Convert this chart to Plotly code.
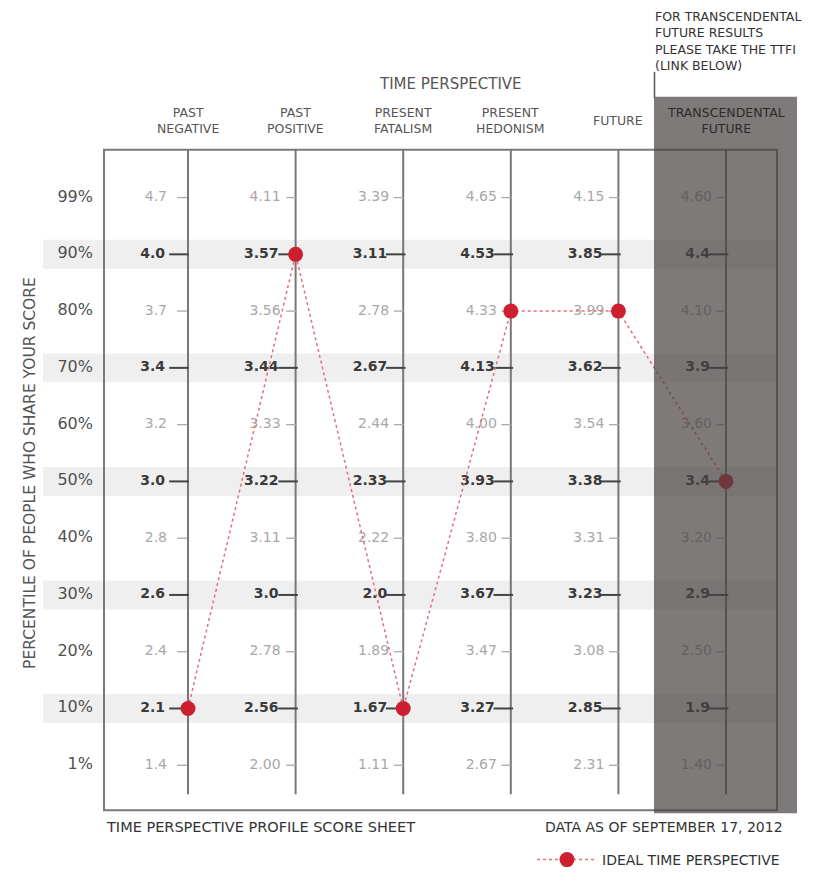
import plotly.graph_objects as go

# ---------------- data ----------------
columns = ["PAST<br>NEGATIVE", "PAST<br>POSITIVE", "PRESENT<br>FATALISM",
           "PRESENT<br>HEDONISM", "FUTURE", "TRANSCENDENTAL<br>FUTURE"]
percentiles = ["99%", "90%", "80%", "70%", "60%", "50%", "40%", "30%", "20%", "10%", "1%"]
major_rows = ["90%", "70%", "50%", "30%", "10%"]

past_negative = ["4.7", "4.0", "3.7", "3.4", "3.2", "3.0", "2.8", "2.6", "2.4", "2.1", "1.4"]
past_positive = ["4.11", "3.57", "3.56", "3.44", "3.33", "3.22", "3.11", "3.0", "2.78", "2.56", "2.00"]
present_fatalism = ["3.39", "3.11", "2.78", "2.67", "2.44", "2.33", "2.22", "2.0", "1.89", "1.67", "1.11"]
present_hedonism = ["4.65", "4.53", "4.33", "4.13", "4.00", "3.93", "3.80", "3.67", "3.47", "3.27", "2.67"]
future = ["4.15", "3.85", "3.99", "3.62", "3.54", "3.38", "3.31", "3.23", "3.08", "2.85", "2.31"]
transcendental_future = ["4.60", "4.4", "4.10", "3.9", "3.60", "3.4", "3.20", "2.9", "2.50", "1.9", "1.40"]

ideal_percentile = ["10%", "90%", "10%", "80%", "80%", "50%"]

score_columns = [past_negative, past_positive, present_fatalism,
                 present_hedonism, future, transcendental_future]

# ---------------- geometry helpers (window pixel -> axis units) ----------------
WIN_W, WIN_H = 825, 876
OFF = 8                      # page body margin
W, H = WIN_W - OFF, WIN_H - OFF
X0, DX = 188.0, 107.6        # window pixel of column 0, pixels per column
Y0, DY = 198.0, 56.9         # window pixel of row 0, pixels per row


def px_x(p):
    return (p - X0) / DX


def px_y(p):
    return (p - Y0) / DY


FONT = "DejaVu Sans"
row_idx = {p: i for i, p in enumerate(percentiles)}
label_gap = [22, 16, 15, 15, 15, 15]   # px between column line and label (style)

fig = go.Figure()

# value labels
for is_major in (False, True):
    xs, ys, ts = [], [], []
    for c, vals in enumerate(score_columns):
        for r, v in enumerate(vals):
            if (percentiles[r] in major_rows) == is_major:
                xs.append(c - (label_gap[c] + (1 if is_major else -1)) / DX)
                ys.append(r)
                ts.append(v)
    fig.add_trace(go.Scatter(
        x=xs, y=ys, text=ts, mode="text", textposition="middle left",
        textfont=dict(family=FONT, size=14,
                      color="#3a3a3a" if is_major else "#a8a8a8",
                      weight="bold" if is_major else "normal"),
        hoverinfo="skip", showlegend=False))

# tick marks
for is_major in (False, True):
    xs, ys = [], []
    for c in range(len(columns)):
        ln = (13 if is_major else 7) + (3 if c == 0 else 0)
        for r in range(len(percentiles)):
            if (percentiles[r] in major_rows) == is_major:
                xs.append(c - (ln / 2 + 1) / DX)
                ys.append(r)
    fig.add_trace(go.Scatter(
        x=xs, y=ys, mode="markers",
        marker=dict(symbol="line-ew", size=14 if is_major else 7,
                    line=dict(width=2 if is_major else 1.3,
                              color="#444" if is_major else "#aaa")),
        hoverinfo="skip", showlegend=False))

# percentile labels
fig.add_trace(go.Scatter(
    x=[px_x(93)] * len(percentiles), y=list(range(len(percentiles))),
    text=percentiles, mode="text", textposition="middle left",
    textfont=dict(family=FONT, size=16, color="#505050"),
    hoverinfo="skip", showlegend=False))

# ideal time perspective line
fig.add_trace(go.Scatter(
    x=list(range(len(columns))), y=[row_idx[p] for p in ideal_percentile],
    mode="lines+markers", name="IDEAL TIME PERSPECTIVE",
    line=dict(color="#e2707c", width=1.5, dash="dot"),
    marker=dict(color="#cc1f2f", size=15),
    hoverinfo="skip", showlegend=True))

# ---------------- shapes ----------------
shapes = []
# bands
for r, p in enumerate(percentiles):
    if p in major_rows:
        shapes.append(dict(type="rect", layer="below", x0=px_x(43), x1=px_x(776),
                           y0=r - 0.255, y1=r + 0.255,
                           fillcolor="#efefef", line=dict(width=0)))
# frame
shapes.append(dict(type="rect", layer="below", x0=px_x(104), x1=px_x(777),
                   y0=px_y(150), y1=px_y(812), line=dict(color="#7a7a7a", width=2)))
# column axis lines
for c in range(len(columns)):
    shapes.append(dict(type="line", layer="below", x0=c, x1=c,
                       y0=px_y(150), y1=px_y(796), line=dict(color="#777", width=2)))
# leader line
shapes.append(dict(type="line", layer="above", x0=px_x(654.5), x1=px_x(654.5),
                   y0=px_y(72), y1=px_y(98), line=dict(color="#555", width=1.5)))
# transcendental panel (semi-transparent, on top)
shapes.append(dict(type="rect", layer="above", x0=px_x(654), x1=px_x(797),
                   y0=px_y(97), y1=px_y(815),
                   fillcolor="rgba(72,65,65,0.7)", line=dict(width=0)))

# ---------------- annotations ----------------
ann = []
for c, name in enumerate(columns):
    ann.append(dict(x=c, y=px_y(121), text=name, showarrow=False,
                    font=dict(family=FONT, size=12.5,
                              color="#2e2929" if c == len(columns) - 1 else "#555"),
                    align="center", xanchor="center", yanchor="middle"))
ann.append(dict(x=px_x(450), y=px_y(84), text="TIME PERSPECTIVE", showarrow=False,
                font=dict(family=FONT, size=15, color="#555"),
                xanchor="center", yanchor="middle"))
ann.append(dict(x=px_x(653), y=px_y(41),
                text="FOR TRANSCENDENTAL<br>FUTURE RESULTS<br>PLEASE TAKE THE TTFI<br>(LINK BELOW)",
                showarrow=False, font=dict(family=FONT, size=12.5, color="#333"),
                align="left", xanchor="left", yanchor="middle"))
ann.append(dict(x=px_x(30), y=px_y(474), text="PERCENTILE OF PEOPLE WHO SHARE YOUR SCORE",
                showarrow=False, textangle=-90,
                font=dict(family=FONT, size=15.5, color="#555"),
                xanchor="center", yanchor="middle"))
ann.append(dict(x=px_x(104), y=px_y(829), text="TIME PERSPECTIVE PROFILE SCORE SHEET",
                showarrow=False, font=dict(family=FONT, size=14.5, color="#333"),
                xanchor="left", yanchor="middle"))
ann.append(dict(x=px_x(785), y=px_y(829), text="DATA AS OF SEPTEMBER 17, 2012",
                showarrow=False, font=dict(family=FONT, size=14, color="#333"),
                xanchor="right", yanchor="middle"))

fig.update_layout(
    width=W, height=H, autosize=False,
    margin=dict(l=0, r=0, t=0, b=0, pad=0),
    paper_bgcolor="white", plot_bgcolor="white",
    xaxis=dict(range=[px_x(OFF), px_x(WIN_W)], visible=False, showgrid=False,
               zeroline=False, fixedrange=True),
    yaxis=dict(range=[px_y(WIN_H), px_y(OFF)], visible=False, showgrid=False,
               zeroline=False, fixedrange=True),
    shapes=shapes, annotations=ann,
    showlegend=True,
    legend=dict(x=(532 - OFF) / W, y=1 - (862 - OFF) / H, xanchor="left", yanchor="middle",
                bgcolor="rgba(0,0,0,0)", font=dict(family=FONT, size=14, color="#333"),
                itemwidth=60),
)

fig.write_html("out.html")
